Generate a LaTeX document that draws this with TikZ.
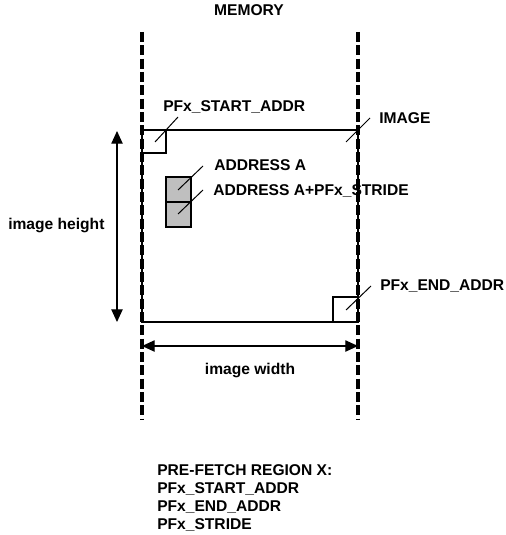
\documentclass[tikz,border=0pt]{standalone}
\usepackage{fontspec}
\setmainfont{Liberation Sans}
\usetikzlibrary{arrows.meta}
\begin{document}
\begin{tikzpicture}[x=0.75pt,y=-0.75pt,
  lbl/.style={font=\fontsize{11.7}{12.3}\selectfont\bfseries, inner sep=0pt, anchor=base west},
  memline/.style={line width=2.4pt, dash pattern=on 7.5pt off 2.5pt},
  boxline/.style={line width=2.2pt},
  leader/.style={line width=0.75pt},
  dimarrow/.style={line width=0.9pt, {Triangle[length=9.5pt,width=8.5pt]}-{Triangle[length=9.5pt,width=8.5pt]}}
]
\useasboundingbox (0,0) rectangle (506,535);
% memory bounds
\coordinate (mlt) at (142,32);
\coordinate (mlb) at (142,420);
\coordinate (mrt) at (358,32);
\coordinate (mrb) at (358,420);
\draw[memline] (mlt) -- (mlb);
\draw[memline] (mrt) -- (mrb);
% image rectangle
\coordinate (itl) at (142,130);
\coordinate (ibr) at (358,322);
\draw[boxline] (itl) rectangle (ibr);
% corner squares
\draw[boxline] (142,130) rectangle (166,153);
\draw[boxline] (333,297) rectangle (358,322);
% gray cells
\draw[boxline, fill=black!25] (166,177) rectangle (191,202);
\draw[boxline, fill=black!25] (166,202) rectangle (191,227);
% labels
\node[lbl, anchor=base] (mem) at (249,16) {MEMORY};
\node[lbl] (sa) at (163,111.6) {PFx\_START\_ADDR};
\node[lbl] (img) at (379,123.2) {IMAGE};
\node[lbl] (aa) at (214,170.6) {ADDRESS A};
\node[lbl] (ab) at (213,195.2) {ADDRESS A+PFx\_STRIDE};
\node[lbl] (ea) at (380,290.6) {PFx\_END\_ADDR};
\node[lbl, anchor=west] (ih) at (8,225) {image height};
\node[lbl, anchor=center] (iw) at (250,370) {image width};
\node[lbl] (r1) at (157,475.6) {PRE-FETCH REGION X:};
\node[lbl] (r2) at (157,493.6) {PFx\_START\_ADDR};
\node[lbl] (r3) at (157,511.6) {PFx\_END\_ADDR};
\node[lbl] (r4) at (157,529.4) {PFx\_STRIDE};
% leaders
\draw[leader] (155,142) -- (178,117);
\draw[leader] (346,142) -- (370,118);
\draw[leader] (178,190) -- (203,166);
\draw[leader] (178,214) -- (203,190);
\draw[leader] (346,310) -- (371,286);
% dimension arrows
\coordinate (hat) at (117,131);
\coordinate (hab) at (117,322);
\draw[dimarrow] (hat) -- (hab);
\coordinate (wal) at (142,346);
\coordinate (war) at (358,346);
\draw[dimarrow] (wal) -- (war);
\end{tikzpicture}
\end{document}
